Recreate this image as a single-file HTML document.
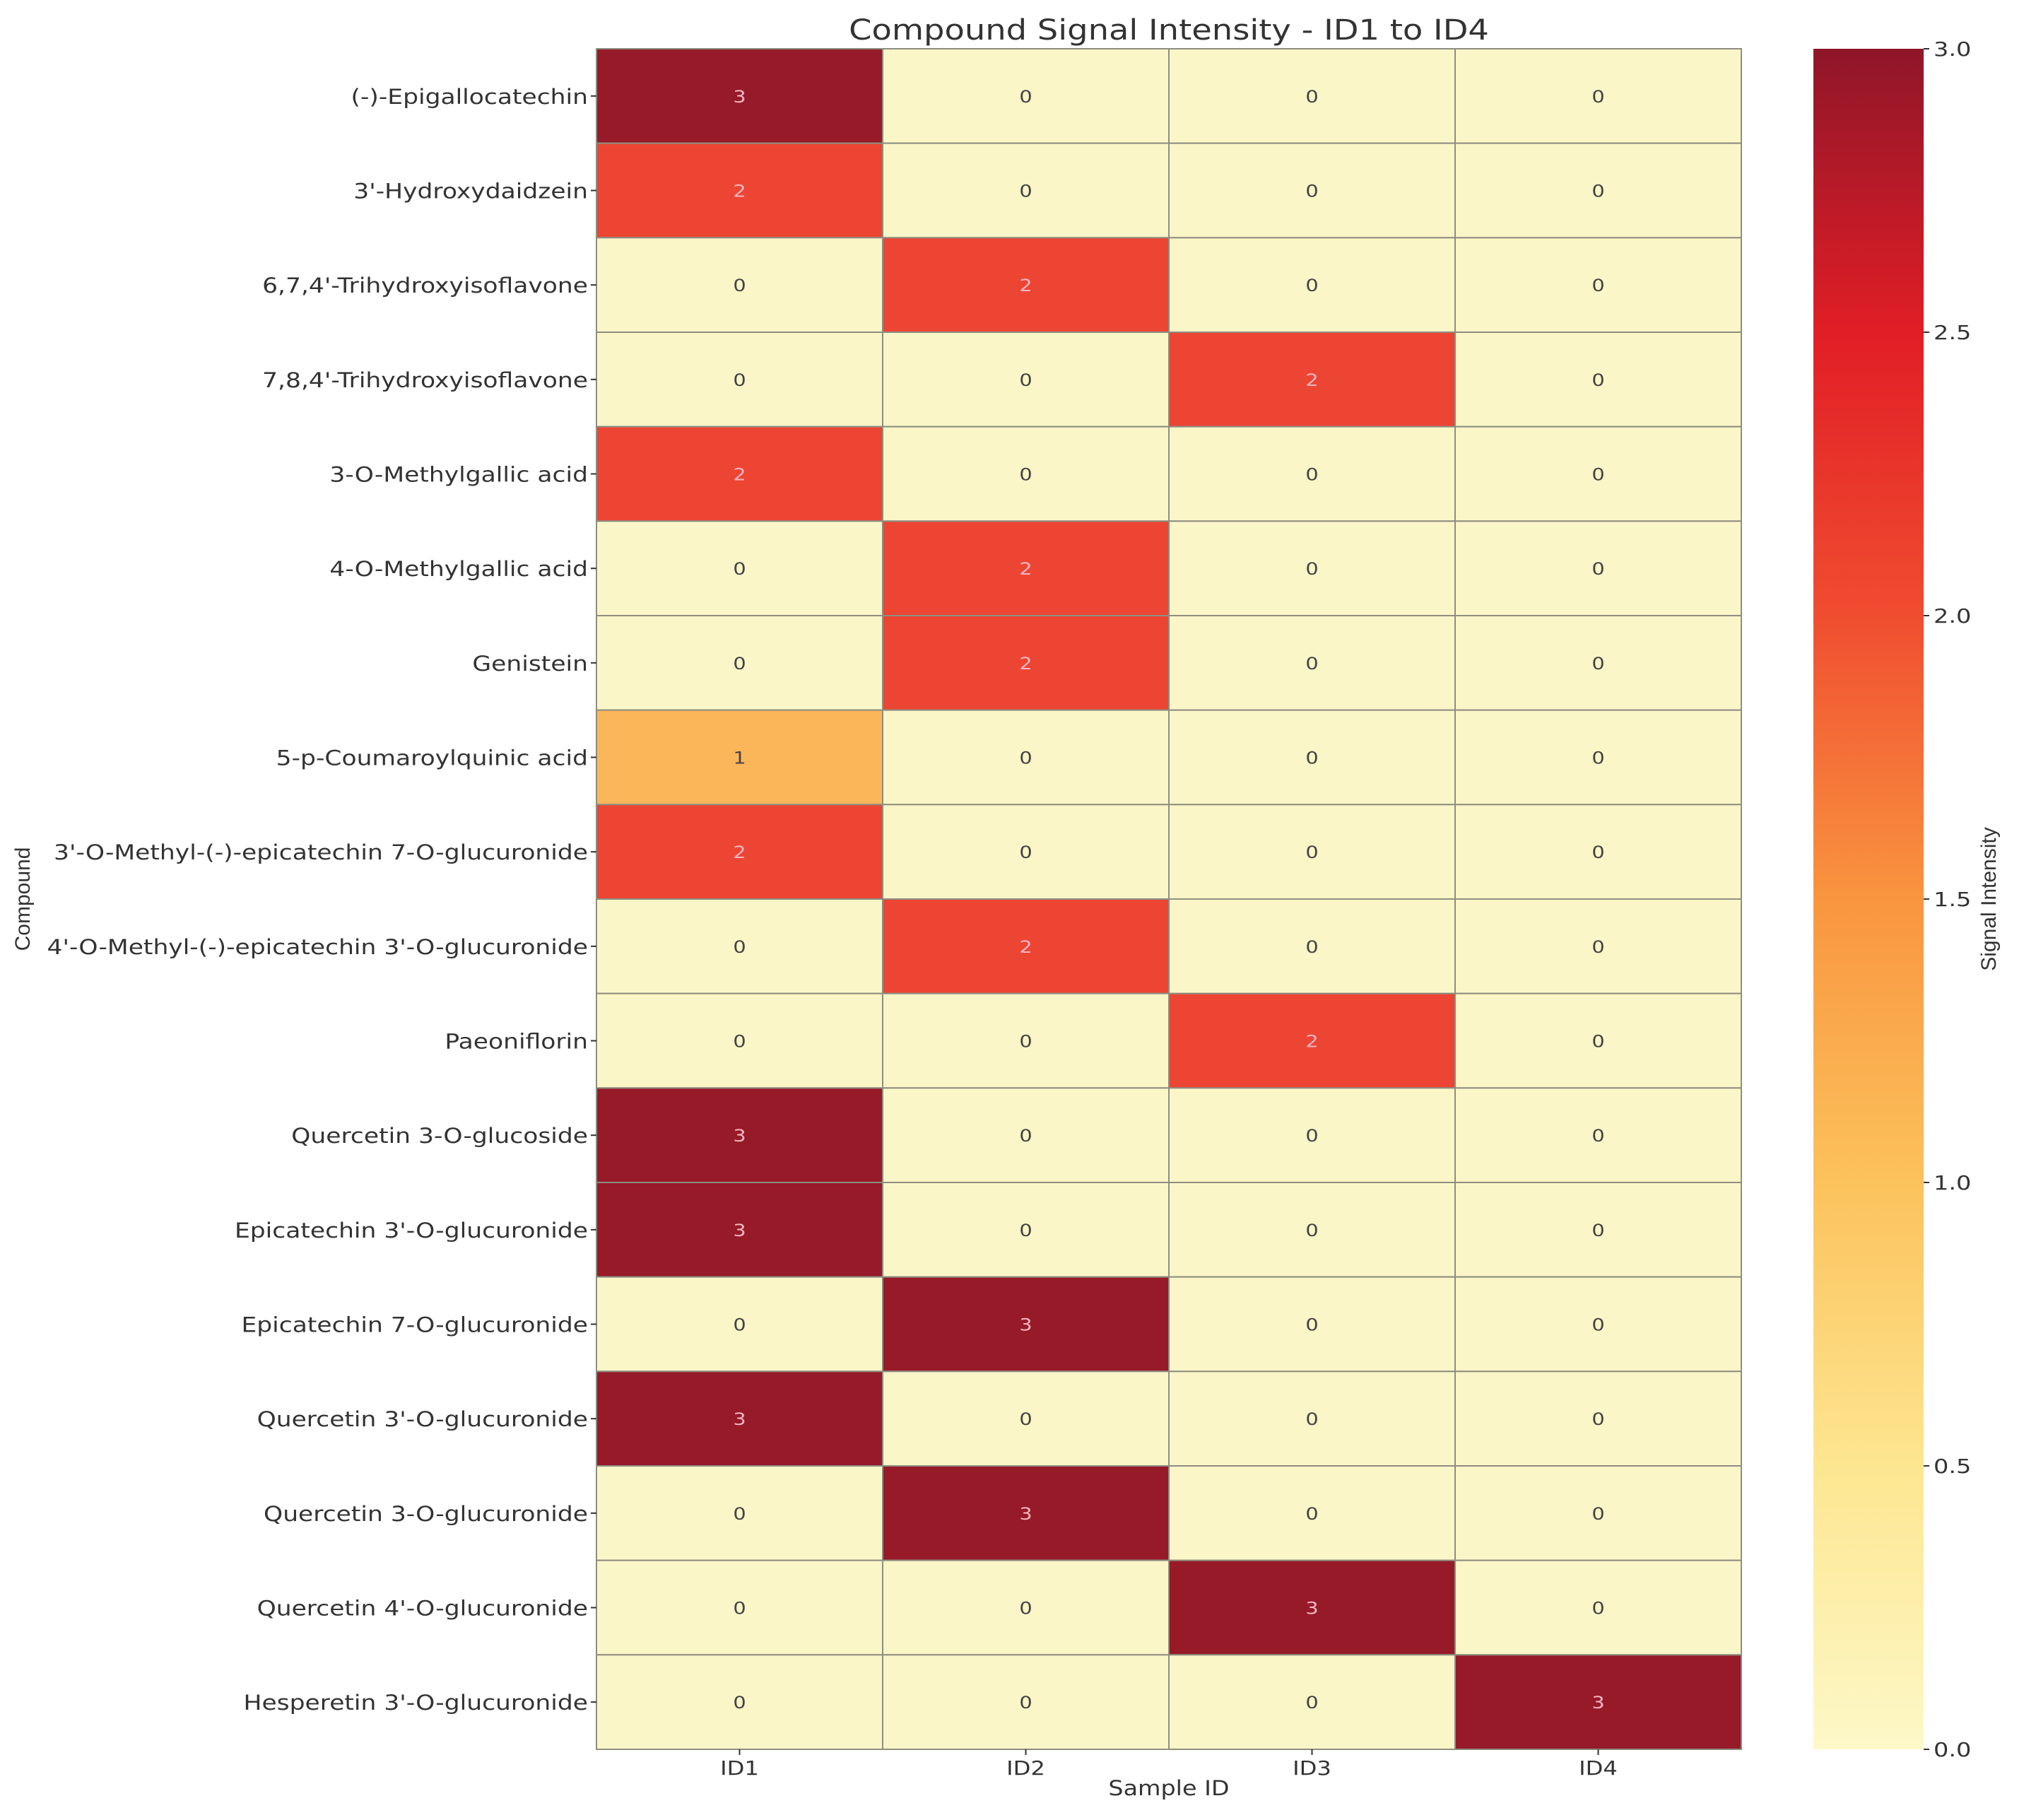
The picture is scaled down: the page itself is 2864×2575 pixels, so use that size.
<!DOCTYPE html>
<html><head><meta charset="utf-8"><style>
body{margin:0;background:#fff}
svg{display:block;font-family:"DejaVu Sans","Liberation Sans",sans-serif}
</style></head><body>
<svg id="chart" width="2864" height="2575" viewBox="0 0 2864 2575" xmlns="http://www.w3.org/2000/svg">
<defs>
<linearGradient id="cbg" x1="0" y1="1" x2="0" y2="0">
<stop offset="0" stop-color="#fdf8c8"/>
<stop offset="0.167" stop-color="#fde690"/>
<stop offset="0.333" stop-color="#fcc25c"/>
<stop offset="0.5" stop-color="#f9953f"/>
<stop offset="0.667" stop-color="#f04d30"/>
<stop offset="0.833" stop-color="#e11e26"/>
<stop offset="1" stop-color="#8f1629"/>
</linearGradient>
</defs>
<text transform="translate(1654,56) scale(1.16,1)" font-size="40" text-anchor="middle" fill="#333">Compound Signal Intensity - ID1 to ID4</text>
<g id="cells"></g>
<g id="ylabels"></g>
<g id="xlabels"></g>
<text transform="translate(1654,2540) scale(1.15,1)" font-size="29" text-anchor="middle" fill="#333">Sample ID</text>
<text transform="translate(42,1272) rotate(-90)" font-size="30" text-anchor="middle" fill="#333" font-family="Liberation Sans Narrow, Liberation Sans, sans-serif">Compound</text>
<rect x="2566" y="69" width="156" height="2406" fill="url(#cbg)"/>
<g id="cbticks"></g>
<text transform="translate(2824,1272) rotate(-90)" font-size="30" text-anchor="middle" fill="#333" font-family="Liberation Sans Narrow, Liberation Sans, sans-serif">Signal Intensity</text>
</svg>
<script>
const compounds=["(-)-Epigallocatechin","3'-Hydroxydaidzein","6,7,4'-Trihydroxyisoflavone","7,8,4'-Trihydroxyisoflavone","3-O-Methylgallic acid","4-O-Methylgallic acid","Genistein","5-p-Coumaroylquinic acid","3'-O-Methyl-(-)-epicatechin 7-O-glucuronide","4'-O-Methyl-(-)-epicatechin 3'-O-glucuronide","Paeoniflorin","Quercetin 3-O-glucoside","Epicatechin 3'-O-glucuronide","Epicatechin 7-O-glucuronide","Quercetin 3'-O-glucuronide","Quercetin 3-O-glucuronide","Quercetin 4'-O-glucuronide","Hesperetin 3'-O-glucuronide"];
const samples=["ID1","ID2","ID3","ID4"];
const valuesID1=[3,2,0,0,2,0,0,1,2,0,0,3,3,0,3,0,0,0];
const valuesID2=[0,0,2,0,0,2,2,0,0,2,0,0,0,3,0,3,0,0];
const valuesID3=[0,0,0,2,0,0,0,0,0,0,2,0,0,0,0,0,3,0];
const valuesID4=[0,0,0,0,0,0,0,0,0,0,0,0,0,0,0,0,0,3];
const cbTicks=[0,0.5,1,1.5,2,2.5,3];
const series=[valuesID1,valuesID2,valuesID3,valuesID4];
const NS="http://www.w3.org/2000/svg";
const L=844,R=2464,T=69,B=2475,vmax=3;
const cw=(R-L)/samples.length, rh=(B-T)/compounds.length;
const xS=i=>L+i*cw, yS=j=>T+j*rh, cbY=v=>B-(v/vmax)*(B-T);
function color(v){
  const c=["#fbf6c8","#fbb65a","#ec4533","#961a28"];
  if(Number.isInteger(v)&&v>=0&&v<=3) return c[v];
  return "#f04d30";
}
function mk(tag,attrs,parent,txt){const e=document.createElementNS(NS,tag);for(const k in attrs)e.setAttribute(k,attrs[k]);if(txt!==undefined)e.textContent=txt;parent.appendChild(e);return e;}
const SX=1.2;
const cells=document.getElementById('cells');
series.forEach((vals,i)=>{vals.forEach((v,j)=>{
  const r=mk('rect',{x:xS(i),y:yS(j),width:cw,height:rh,fill:color(v),stroke:"#8e8e80","stroke-width":2},cells);
  
  
  const t=mk('text',{transform:`translate(${xS(i)+cw/2},${yS(j)+rh/2+9}) scale(${SX},1)`,"font-size":24,"text-anchor":"middle",fill:v>=2?"#f7b5c2":"#444"},cells,String(v));
  
  
});});
const yl=document.getElementById('ylabels');
compounds.forEach((c,j)=>{
  const y=yS(j)+rh/2;
  const tk=mk('line',{x1:L-8,x2:L,y1:y,y2:y,stroke:"#333","stroke-width":2},yl);
  
  
  const t=mk('text',{transform:`translate(${L-12},${y+11}) scale(1.19,1)`,"font-size":29,"text-anchor":"end",fill:"#333"},yl,c);
  
  
});
const xl=document.getElementById('xlabels');
samples.forEach((s,i)=>{
  const x=xS(i)+cw/2;
  const tk=mk('line',{x1:x,x2:x,y1:B,y2:B+8,stroke:"#333","stroke-width":2},xl);
  
  
  const t=mk('text',{transform:`translate(${x},${B+36}) scale(1.15,1)`,"font-size":28,"text-anchor":"middle",fill:"#333"},xl,s);
  
  
});
const cb=document.getElementById('cbticks');
cbTicks.forEach(v=>{
  const y=cbY(v);
  const tk=mk('line',{x1:2722,x2:2730,y1:y,y2:y,stroke:"#333","stroke-width":2},cb);
  
  
  const t=mk('text',{transform:`translate(2736,${y+10}) scale(1.2,1)`,"font-size":28,fill:"#333"},cb,v.toFixed(1));
  
  
});
</script>
</body></html>
